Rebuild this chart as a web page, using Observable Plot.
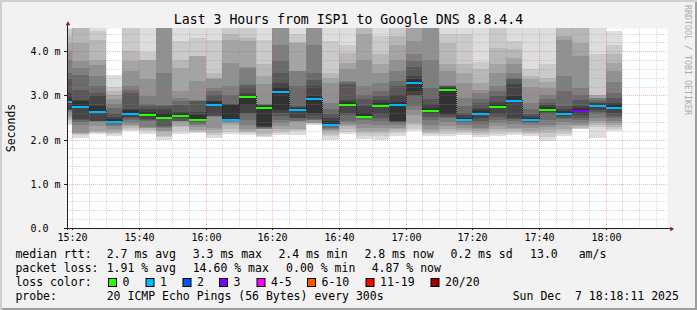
<!DOCTYPE html>
<html><head><meta charset="utf-8">
<script src="https://cdn.jsdelivr.net/npm/d3@7"></script>
<script src="https://cdn.jsdelivr.net/npm/@observablehq/plot@0.6"></script>
<style>
html,body{margin:0;padding:0;background:#f2f2f2;}
#wrap{position:relative;width:697px;height:310px;background:#f2f2f2;overflow:hidden;
  box-shadow: inset 2px 2px 0 #cfcfcf, inset -2px -2px 0 #9e9e9e;}
#wrap svg{position:absolute;left:0;top:0;}
</style></head><body><div id="wrap"></div>
<script>
// ---- data ----
const slotStarts = ["15:15","15:20","15:25","15:30","15:35","15:40","15:45","15:50","15:55","16:00","16:05","16:10","16:15","16:20","16:25","16:30","16:35","16:40","16:45","16:50","16:55","17:00","17:05","17:10","17:15","17:20","17:25","17:30","17:35","17:40","17:45","17:50","17:55","18:00"];
const medians = [2.88,2.76,2.65,2.42,2.61,2.58,2.52,2.56,2.47,2.81,2.47,2.99,2.74,3.10,2.70,2.94,2.36,2.81,2.54,2.79,2.81,3.31,2.67,3.15,2.47,2.61,2.76,2.90,2.47,2.70,2.61,2.67,2.79,2.74];
const lossCounts = [1,1,1,1,1,0,0,0,0,1,1,0,0,1,1,1,1,0,0,0,1,1,0,0,1,1,0,1,1,0,1,3,1,1];
// 20 sorted ping times (ms) per 5-minute slot
const smoke = [
 [2.34,2.40,2.45,2.50,2.53,2.62,2.66,2.67,2.68,2.85, 2.95,3.06,3.36,3.50,3.81,4.00,4.19,4.35,4.50,4.90],
 [2.04,2.10,2.13,2.15,2.16,2.34,2.40,2.44,2.46,2.76, 2.87,2.90,3.13,3.47,3.62,3.77,4.19,4.80,5.20,6.00],
 [2.13,2.16,2.17,2.20,2.30,2.40,2.41,2.42,2.43,2.60, 2.75,2.98,3.05,3.21,3.43,3.69,3.80,4.26,4.45,5.00],
 [2.09,2.12,2.16,2.20,2.25,2.30,2.34,2.37,2.39,2.41, 2.46,2.52,2.60,2.71,2.80,2.92,3.02,3.10,3.20,3.46],
 [2.19,2.22,2.26,2.30,2.34,2.38,2.44,2.48,2.52,2.58, 2.68,2.70,3.06,3.13,3.21,3.55,3.77,4.00,4.80,5.50],
 [2.13,2.19,2.21,2.26,2.27,2.28,2.42,2.44,2.47,2.56, 2.63,2.70,2.76,2.80,2.98,3.36,3.80,3.81,3.99,4.90],
 [2.00,2.05,2.08,2.19,2.20,2.26,2.28,2.30,2.48,2.51, 2.60,2.70,2.75,2.79,3.51,4.52,4.56,4.60,4.80,5.00],
 [2.12,2.20,2.28,2.30,2.40,2.41,2.42,2.42,2.50,2.54, 2.60,2.62,2.79,2.87,2.95,3.10,3.62,3.80,4.23,4.90],
 [2.15,2.18,2.20,2.22,2.28,2.32,2.35,2.40,2.44,2.46, 2.55,2.62,2.87,2.88,2.90,3.32,3.89,3.90,4.30,4.90],
 [2.04,2.10,2.15,2.22,2.27,2.52,2.53,2.54,2.55,2.78, 2.87,2.88,3.02,3.10,3.17,3.36,3.40,3.51,4.26,5.00],
 [2.12,2.18,2.25,2.32,2.38,2.40,2.42,2.44,2.45,2.46, 2.79,2.80,2.81,3.02,3.21,3.74,4.26,4.40,4.60,5.00],
 [2.11,2.14,2.18,2.20,2.23,2.34,2.45,2.57,2.60,2.79, 3.02,3.05,3.21,3.25,3.62,3.65,4.23,4.30,4.60,5.00],
 [2.06,2.09,2.12,2.23,2.24,2.25,2.26,2.28,2.29,2.30, 2.77,2.78,2.79,2.80,2.81,3.25,3.45,3.70,4.26,5.00],
 [2.11,2.15,2.20,2.23,2.30,2.38,2.45,2.53,2.60,2.68, 3.18,3.28,3.50,3.77,4.15,4.60,4.90,5.30,5.80,6.50],
 [2.11,2.20,2.22,2.23,2.40,2.41,2.42,2.48,2.49,2.66, 2.72,2.74,2.76,3.21,3.55,3.56,4.19,4.20,4.38,4.80],
 [2.34,2.36,2.37,2.37,2.38,2.44,2.45,2.46,2.55,2.61, 2.98,3.21,3.35,3.51,4.15,4.60,4.90,5.20,5.50,6.00],
 [2.00,2.08,2.12,2.19,2.22,2.25,2.27,2.30,2.32,2.34, 2.42,2.50,2.57,2.70,2.83,3.28,3.40,3.51,4.23,4.80],
 [2.13,2.18,2.23,2.30,2.34,2.38,2.42,2.55,2.60,2.78, 2.86,2.90,3.25,3.30,3.32,3.59,3.74,3.96,4.15,4.80],
 [2.02,2.08,2.15,2.20,2.27,2.35,2.45,2.48,2.52,2.54, 2.60,2.75,2.91,3.00,3.21,3.81,4.38,4.60,4.90,5.20],
 [2.00,2.08,2.14,2.20,2.27,2.34,2.42,2.50,2.57,2.75, 2.83,2.90,2.98,3.10,3.28,3.50,3.70,3.93,4.34,4.90],
 [2.08,2.15,2.20,2.24,2.27,2.32,2.37,2.40,2.41,2.42, 2.85,3.00,3.21,3.32,3.55,3.81,4.15,4.34,4.80,5.20],
 [2.19,2.25,2.32,2.38,2.55,2.68,2.75,2.98,3.00,3.10, 3.36,3.45,3.65,3.77,3.93,4.23,4.60,4.90,5.30,5.80],
 [2.08,2.12,2.16,2.19,2.25,2.34,2.45,2.52,2.57,2.64, 2.72,2.80,2.91,3.17,3.81,4.60,4.90,5.20,5.60,6.00],
 [2.08,2.13,2.19,2.25,2.30,2.40,2.49,2.52,2.55,2.57, 3.19,3.20,3.21,3.22,3.23,3.55,3.70,4.19,4.40,4.90],
 [2.10,2.14,2.19,2.22,2.27,2.32,2.38,2.42,2.44,2.45, 2.50,2.55,2.61,2.75,2.95,3.28,3.50,3.70,4.38,4.90],
 [2.05,2.10,2.15,2.19,2.24,2.27,2.35,2.42,2.50,2.58, 2.66,2.72,2.83,2.91,3.06,3.13,3.28,3.59,3.76,4.80],
 [2.08,2.13,2.19,2.25,2.30,2.38,2.45,2.52,2.57,2.72, 2.80,2.85,2.98,3.10,3.21,3.50,3.70,4.08,4.60,5.00],
 [2.10,2.15,2.19,2.24,2.27,2.35,2.42,2.47,2.49,2.85, 2.98,3.25,3.38,3.40,3.51,3.70,3.85,4.04,4.23,4.90],
 [2.08,2.12,2.15,2.20,2.27,2.32,2.38,2.40,2.42,2.44, 2.50,2.54,2.57,2.70,2.83,3.20,3.36,3.45,3.59,4.90],
 [1.96,2.05,2.15,2.22,2.28,2.34,2.45,2.57,2.62,2.68, 2.74,2.78,2.83,2.92,3.02,3.17,3.30,3.40,3.70,4.60],
 [2.08,2.13,2.19,2.25,2.34,2.40,2.46,2.50,2.54,2.58, 2.64,2.70,2.76,3.10,3.43,4.26,4.34,4.60,4.90,5.20],
 [2.23,2.25,2.27,2.30,2.34,2.38,2.44,2.49,2.55,2.62, 2.72,2.76,2.90,3.02,3.17,3.89,4.19,4.60,4.90,5.20],
 [2.03,2.28,2.34,2.38,2.42,2.50,2.57,2.62,2.68,2.74, 2.81,2.83,2.86,2.90,2.93,2.95,3.00,3.02,3.93,4.90],
 [2.19,2.23,2.28,2.34,2.38,2.42,2.48,2.54,2.60,2.70, 2.80,2.83,2.95,3.06,3.30,3.55,3.74,3.93,4.15,4.45]
];
const yTickValues = [0, 1, 2, 3, 4];
const lossLabels = ["0","1","2","3","4-5","6-10","11-19","20/20"];
const lossUpper  = [0, 1, 2, 3, 5, 10, 19, 20];
const lossColors = ["#26ff00","#00b8ff","#0059ff","#7e00ff","#ff00ff","#ff5500","#ff0000","#a00000"];
const titleText = "Last 3 Hours from ISP1 to Google DNS 8.8.4.4";
const rttStats  = ["median rtt:", "2.7 ms avg", "3.3 ms max", "2.4 ms min", "2.8 ms now", "0.2 ms sd", "13.0", "am/s"];
const lossStats = ["packet loss:", "1.91 % avg", "14.60 % max", "0.00 % min", "4.87 % now"];
const probeText = ["probe:", "20 ICMP Echo Pings (56 Bytes) every 300s", "Sun Dec  7 18:18:11 2025"];

// ---- derived ----
const at = (hm, s = 0) => { const [h, m] = hm.split(":").map(Number); return new Date(Date.UTC(2025, 11, 7, h, m, s)); };
const STEP = 5 * 60 * 1000;
const xStart = at("15:18", 25), xEnd = at("18:18", 25);
const cols = slotStarts.map((s, i) => ({t0: at(s), t1: new Date(+at(s) + STEP), median: medians[i], loss: lossCounts[i]}));
const lossColor = n => lossColors[lossUpper.findIndex(b => n <= b)];
const gray = L => { const c = Math.floor(190 / 10 * (10 - L)) + 50; return `rgb(${c},${c},${c})`; };
const layers = [];
for (let k = 0; k < 10; k++) smoke.forEach((p, i) => layers.push({t0: cols[i].t0, t1: cols[i].t1, lo: p[k], hi: p[19 - k], layer: k + 1}));
const connectors = cols.slice(1).map((c, i) => ({t: c.t0, a: medians[i], b: medians[i + 1]}));
const minorX = d3.utcMinute.every(5).range(xStart, xEnd).filter(d => d.getUTCMinutes() % 20 !== 0);
const majorX = d3.utcMinute.every(20).range(xStart, xEnd);
const minorY = d3.range(1, 23).filter(i => i % 5 !== 0).map(i => i / 5);
const majorY = yTickValues.filter(v => v > 0);
const FONT = "'DejaVu Sans Mono', monospace";

const chart = Plot.plot({
  width: 697, height: 250,
  marginLeft: 67, marginRight: 30, marginTop: 28, marginBottom: 22,
  x: {type: "utc", domain: [xStart, xEnd], round: true, label: null},
  y: {domain: [0, 4.525], round: true, label: null},
  style: {background: "transparent", fontFamily: FONT, fontSize: "10px", color: "#000", overflow: "visible"},
  marks: [
    Plot.frame({fill: "#ffffff", stroke: null}),
    Plot.rect(layers, {x1: "t0", x2: "t1", y1: "lo", y2: "hi", fill: d => gray(d.layer), clip: true, shapeRendering: "crispEdges"}),
    Plot.ruleX(minorX, {stroke: "#8f8f8f", strokeOpacity: 0.36, strokeDasharray: "1,1"}),
    Plot.ruleY(minorY, {stroke: "#8f8f8f", strokeOpacity: 0.36, strokeDasharray: "1,1"}),
    Plot.ruleX(majorX, {stroke: "#de4f4f", strokeOpacity: 0.38, strokeDasharray: "1,1"}),
    Plot.ruleY(majorY, {stroke: "#de4f4f", strokeOpacity: 0.38, strokeDasharray: "1,1"}),
    Plot.ruleX(connectors, {x: "t", y1: "a", y2: "b", stroke: "#202020", strokeDasharray: "1,1"}),
    Plot.ruleY(cols, {y: "median", x1: "t0", x2: "t1", stroke: d => lossColor(d.loss), strokeWidth: 2, dy: 0.5, clip: true}),
    Plot.ruleY([0], {stroke: "#1f1f1f", insetLeft: -2, insetRight: -3}),
    Plot.ruleX([xStart], {stroke: "#1f1f1f", insetTop: -5, insetBottom: -2}),
    Plot.axisY({ticks: yTickValues, tickSize: 3, tickFormat: () => "", stroke: "#1f1f1f"}),
    Plot.text(yTickValues, {y: d => d, text: d => d === 0 ? "0.0" : d.toFixed(1) + " m", frameAnchor: "left", dx: -37, textAnchor: "start", fontSize: 10, fill: "#000"}),
    Plot.axisX({ticks: majorX, tickSize: 2, tickPadding: 3, tickFormat: d3.utcFormat("%H:%M"), stroke: "#1f1f1f", fontSize: 10, fill: "#000"}),
    Plot.dot([0], {frameAnchor: "top-left", symbol: "triangle", r: 1.7, fill: "#801f1f", stroke: null, dx: 0.5, dy: -4.5}),
    Plot.dot([0], {frameAnchor: "bottom-right", symbol: "triangle", r: 1.7, fill: "#801f1f", stroke: null, rotate: 90, dx: 4, dy: 0.5})
  ]
});
document.getElementById("wrap").appendChild(chart);

// ---- title, unit label, watermark and legend ----
const ov = d3.select("#wrap").append("svg").attr("width", 697).attr("height", 310)
  .style("font-family", FONT).style("overflow", "visible");
const put = (x, y, s, size, opts = {}) => ov.append("text").attr("x", x).attr("y", y)
  .attr("font-size", size).attr("fill", opts.fill || "#000").attr("text-anchor", opts.anchor || "start")
  .attr("transform", opts.transform || null).style("white-space", "pre").text(s);

put(348.5, 24, titleText, 13.2, {anchor: "middle"});
put(0, 0, "Seconds", 11.5, {anchor: "middle", transform: "translate(15.3,128) rotate(-90)"});
put(0, 0, "RRDTOOL / TOBI OETIKER", 8.3, {fill: "#ababab", transform: "translate(684.8,5) rotate(90)"});

const rttX = [15.4, 106.7, 192.7, 278.4, 364.4, 450.4, 530.1, 578.7];
rttStats.forEach((s, i) => put(rttX[i], 258.3, s, 11.5));
const lossX = [15.4, 106.7, 192.7, 286.1, 371.7];
lossStats.forEach((s, i) => put(lossX[i], 272.3, s, 11.5));
put(15.4, 286.3, "loss color:", 11.5);
const boxX = [108, 145.5, 182.5, 219, 256.5, 307, 365.5, 430.5];
lossLabels.forEach((s, i) => {
  ov.append("rect").attr("x", boxX[i] + 0.5).attr("y", 278.5).attr("width", 8).attr("height", 8)
    .attr("fill", lossColors[i]).attr("stroke", "#000").attr("stroke-width", 1);
  put(boxX[i] + 14.5, 286.3, s, 11.5);
});
const probeX = [15.4, 106.7, 512.7];
probeText.forEach((s, i) => put(probeX[i], 300.3, s, 11.5));
</script>
</body></html>
